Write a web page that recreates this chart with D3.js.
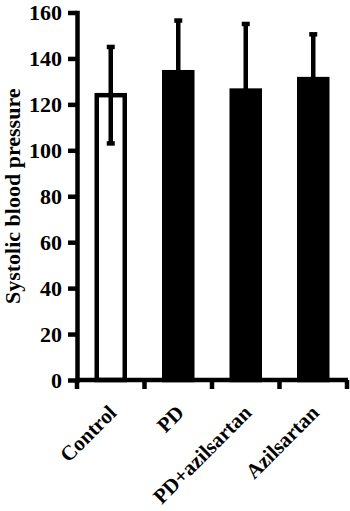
<!DOCTYPE html>
<html>
<head>
<meta charset="utf-8">
<script src="https://cdn.jsdelivr.net/npm/d3@7"></script>
<style>
  html, body { margin: 0; padding: 0; background: #fff; }
  svg { display: block; }
  text { font-family: "Liberation Serif", "Times New Roman", serif; font-weight: bold; fill: #000; }
</style>
</head>
<body>
<svg id="chart" width="350" height="511"></svg>
<script>
const categories = ["Control", "PD", "PD+azilsartan", "Azilsartan"];
const means = [124, 134, 126, 131];
const sds = [21, 22.5, 29, 19.5];
const fills = ["#fff", "#000", "#000", "#000"];
const yTicks = [0, 20, 40, 60, 80, 100, 120, 140, 160];
const yLabel = "Systolic blood pressure";

const svg = d3.select("#chart");
const x0 = 77, x1 = 347, yBase = 380, yTop = 12.5;

const x = d3.scaleBand().domain(categories).range([x0, x1]).paddingInner(0).paddingOuter(0);
const y = d3.scaleLinear().domain([0, 160]).range([yBase, yTop]);

const barW = 28, sw = 4.5;

// bars
svg.append("g").selectAll("rect")
  .data(categories)
  .join("rect")
  .attr("x", d => x(d) + x.bandwidth() / 2 - barW / 2)
  .attr("y", (d, i) => y(means[i]))
  .attr("width", barW)
  .attr("height", (d, i) => yBase - y(means[i]))
  .attr("fill", (d, i) => fills[i])
  .attr("stroke", "#000")
  .attr("stroke-width", sw);

// error bars
const eb = svg.append("g").attr("stroke", "#000");
categories.forEach((c, i) => {
  const cx = x(c) + x.bandwidth() / 2;
  const lo = means[i] - sds[i], hi = means[i] + sds[i];
  eb.append("line").attr("x1", cx).attr("x2", cx)
    .attr("y1", y(hi)).attr("y2", y(lo)).attr("stroke-width", 4.5);
  eb.append("line").attr("x1", cx - 4).attr("x2", cx + 4)
    .attr("y1", y(hi)).attr("y2", y(hi)).attr("stroke-width", 4.5);
  eb.append("line").attr("x1", cx - 4).attr("x2", cx + 4)
    .attr("y1", y(lo)).attr("y2", y(lo)).attr("stroke-width", 4.5);
});

// y axis
const yAxis = svg.append("g")
  .attr("transform", `translate(${x0},0)`)
  .call(d3.axisLeft(y).tickValues(yTicks).tickSize(9).tickSizeOuter(0).tickPadding(6).tickFormat(d3.format("d")));
yAxis.select(".domain").attr("stroke-width", 4.5).attr("stroke-linecap", "square");
yAxis.selectAll(".tick line").attr("stroke-width", 4.5);
yAxis.selectAll(".tick text").attr("font-size", 22)
  .style("font-family", '"Liberation Serif", serif').style("font-weight", "bold");

// x axis
const xg = svg.append("g");
xg.append("line").attr("x1", x0).attr("x2", x1 + 1).attr("y1", yBase).attr("y2", yBase)
  .attr("stroke", "#000").attr("stroke-width", 4.5);
const edges = categories.map(c => x(c)).concat([x1]);
xg.selectAll("line.t").data(edges).join("line").attr("class", "t")
  .attr("x1", d => d).attr("x2", d => d)
  .attr("y1", yBase).attr("y2", yBase + 9)
  .attr("stroke", "#000").attr("stroke-width", 4.5);
xg.selectAll("text").data(categories).join("text")
  .attr("transform", d => `translate(${x(d) + x.bandwidth() / 2 + 7},${yBase + 34}) rotate(-45)`)
  .attr("text-anchor", "end")
  .attr("font-size", 21)
  .text(d => d);

// y label
svg.append("text")
  .attr("transform", `translate(20,${(y(0) + y(160)) / 2}) rotate(-90)`)
  .attr("text-anchor", "middle")
  .attr("font-size", 22)
  .text(yLabel);
</script>
</body>
</html>
